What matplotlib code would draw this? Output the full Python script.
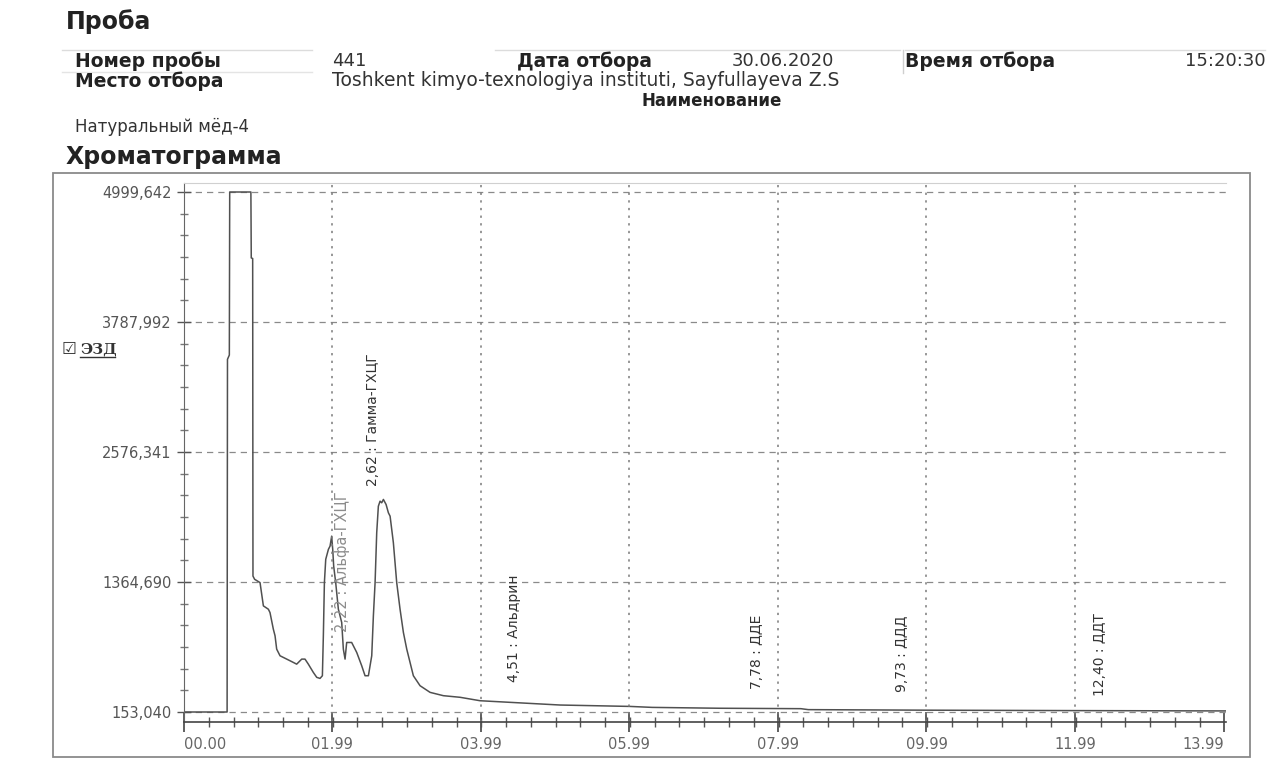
import numpy as np
import matplotlib
matplotlib.use("Agg")
import matplotlib.pyplot as plt
from matplotlib.patches import Rectangle
from matplotlib.lines import Line2D

plt.rcParams['font.family'] = ['DejaVu Sans']

# --- data (time in min, signal) ---
time_min = [0.00, 0.580, 0.585, 0.610, 0.615, 0.900, 0.905, 0.924, 0.928, 0.950,
            1.023, 1.068, 1.135, 1.157, 1.202, 1.225, 1.247, 1.292, 1.382, 1.471,
            1.516, 1.584, 1.628, 1.673, 1.740, 1.786, 1.830, 1.862, 1.875, 1.889,
            1.907, 1.943, 1.965, 1.987, 2.001, 2.014, 2.041, 2.077, 2.122, 2.144,
            2.167, 2.189, 2.256, 2.324, 2.391, 2.436, 2.481, 2.526, 2.548, 2.571,
            2.593, 2.615, 2.638, 2.660, 2.683, 2.719, 2.750, 2.773, 2.817, 2.862,
            2.907, 2.952, 2.997, 3.086, 3.176, 3.311, 3.490, 3.715, 3.984, 4.388,
            5.061, 6.00, 6.30, 7.20, 8.30, 8.40, 10.00, 12.00, 14.02]
signal = [153, 153, 3440, 3480, 4999.6, 4999.6, 4385, 4380, 1420, 1390,
          1359, 1142, 1111, 1080, 925, 863, 739, 677, 646, 615,
          599, 646, 646, 599, 522, 476, 466, 491, 863, 1359,
          1576, 1669, 1699, 1792, 1669, 1513, 1359, 1111, 987, 739,
          646, 801, 801, 708, 584, 491, 491, 677, 1048, 1359,
          1824, 2071, 2118, 2103, 2134, 2087, 2010, 1978, 1731, 1359,
          1111, 894, 739, 491, 398, 336, 305, 290, 258, 243,
          218, 205, 196, 188, 184, 175, 170, 166, 163]

peak_times = [2.22, 2.62, 4.51, 7.78, 9.73, 12.40]
peak_names = ["Альфа-ГХЦГ", "Гамма-ГХЦГ", "Альдрин", "ДДЕ", "ДДД", "ДДТ"]
peak_label_y = [900, 2255, 432, 367, 339, 302]

y_ticks = [153.040, 1364.690, 2576.341, 3787.992, 4999.642]
y_labels = ["153,040", "1364,690", "2576,341", "3787,992", "4999,642"]
x_ticks = [0.0, 1.99, 3.99, 5.99, 7.99, 9.99, 11.99, 13.99]
x_labels = ["00.00", "01.99", "03.99", "05.99", "07.99", "09.99", "11.99", "13.99"]

W, H = 1275, 760
fig = plt.figure(figsize=(W / 100, H / 100), dpi=100)
fig.patch.set_facecolor('white')


def fx(px):
    return px / W


def fy(py):
    return 1 - py / H


# header block
fig.text(fx(66), fy(22), "Проба", fontsize=17, fontweight='bold', color='#222', va='center')
for x0, x1 in [(62, 312), (495, 900), (905, 1265)]:
    fig.add_artist(Line2D([fx(x0), fx(x1)], [fy(50), fy(50)], color='#dcdcdc', lw=1))
fig.add_artist(Line2D([fx(62), fx(312)], [fy(72), fy(72)], color='#e4e4e4', lw=1))
fig.add_artist(Line2D([fx(903), fx(903)], [fy(50), fy(73)], color='#cfcfcf', lw=1))
row1 = fy(61)
fig.text(fx(75), row1, "Номер пробы", fontsize=13.5, fontweight='bold', color='#222', va='center')
fig.text(fx(332), row1, "441", fontsize=13, color='#333', va='center')
fig.text(fx(517), row1, "Дата отбора", fontsize=13.5, fontweight='bold', color='#222', va='center')
fig.text(fx(732), row1, "30.06.2020", fontsize=13, color='#333', va='center')
fig.text(fx(905), row1, "Время отбора", fontsize=13.5, fontweight='bold', color='#222', va='center')
fig.text(fx(1185), row1, "15:20:30", fontsize=13, color='#333', va='center')
row2 = fy(81)
fig.text(fx(75), row2, "Место отбора", fontsize=13.5, fontweight='bold', color='#222', va='center')
fig.text(fx(332), row2, "Toshkent kimyo-texnologiya instituti, Sayfullayeva Z.S",
         fontsize=13.5, color='#333', va='center')
fig.text(fx(712), fy(101), "Наименование", fontsize=12, fontweight='bold', color='#222',
         va='center', ha='center')
fig.text(fx(75), fy(127), "Натуральный мёд-4", fontsize=12, color='#333', va='center')
fig.text(fx(66), fy(157), "Хроматограмма", fontsize=17, fontweight='bold', color='#222', va='center')

# chart frame
fig.add_artist(Rectangle((fx(53), fy(757)), fx(1250) - fx(53), fy(173) - fy(757),
                         transform=fig.transFigure, fill=False, edgecolor='#8a8a8a', lw=1.3))

# channel tag
fig.text(fx(62), fy(349), "☑", fontsize=12, color='#333', va='center')
fig.text(fx(80), fy(349), "ЭЗД", fontsize=11, fontweight='bold', family='DejaVu Serif',
         color='#333', va='center')
fig.add_artist(Line2D([fx(80), fx(115)], [fy(357), fy(357)], color='#333', lw=1))

# plot area
ax = fig.add_axes([fx(184), fy(722), fx(1226) - fx(184), fy(183) - fy(722)])
ax.plot(time_min, signal, color='#505050', lw=1.1)
ax.set_xlim(0, 14.02)
ax.set_ylim(59.8, 5083.5)

ax.set_yticks(y_ticks)
ax.set_yticklabels(y_labels)
ax.set_yticks(np.linspace(153.040, 4999.642, 25), minor=True)
ax.set_xticks(x_ticks)
ax.set_xticklabels(x_labels)
ax.set_xticks(np.arange(0, 14.0, 1 / 3), minor=True)
xl = ax.get_xticklabels()
xl[0].set_ha('left')
xl[-1].set_ha('right')

ax.tick_params(axis='y', which='major', direction='inout', length=10, width=1,
               color='#555', labelsize=10.5, labelcolor='#555', pad=4)
ax.tick_params(axis='y', which='minor', direction='inout', length=6, width=1, color='#777')
ax.tick_params(axis='x', which='major', direction='inout', length=14, width=1.2,
               color='#444', labelsize=10.5, labelcolor='#666', pad=4)
ax.tick_params(axis='x', which='minor', direction='inout', length=7, width=1, color='#555')

ax.spines['right'].set_visible(False)
ax.spines['top'].set_color('#d0d0d0')
ax.spines['top'].set_linewidth(0.8)
ax.spines['left'].set_color('#666')
ax.spines['bottom'].set_color('#444')
ax.spines['bottom'].set_linewidth(1.2)

ax.yaxis.grid(True, which='major', linestyle=(0, (5, 4)), color='#8a8a8a', lw=0.9)
for xv in x_ticks[1:-1]:
    ax.axvline(xv, linestyle=(0, (1.5, 3.5)), color='#7a7a7a', lw=1.1)

# peak annotations
for i, (t, name, yv) in enumerate(zip(peak_times, peak_names, peak_label_y)):
    txt = f"{t:.2f}".replace('.', ',') + " : " + name
    col = '#8c8c8c' if i == 0 else '#333'
    ax.text(t + 0.02, yv, txt, rotation=90, ha='right', va='bottom',
            fontsize=10.5 if i == 0 else 10, color=col)

fig.savefig("out.png", dpi=100, facecolor='white')
